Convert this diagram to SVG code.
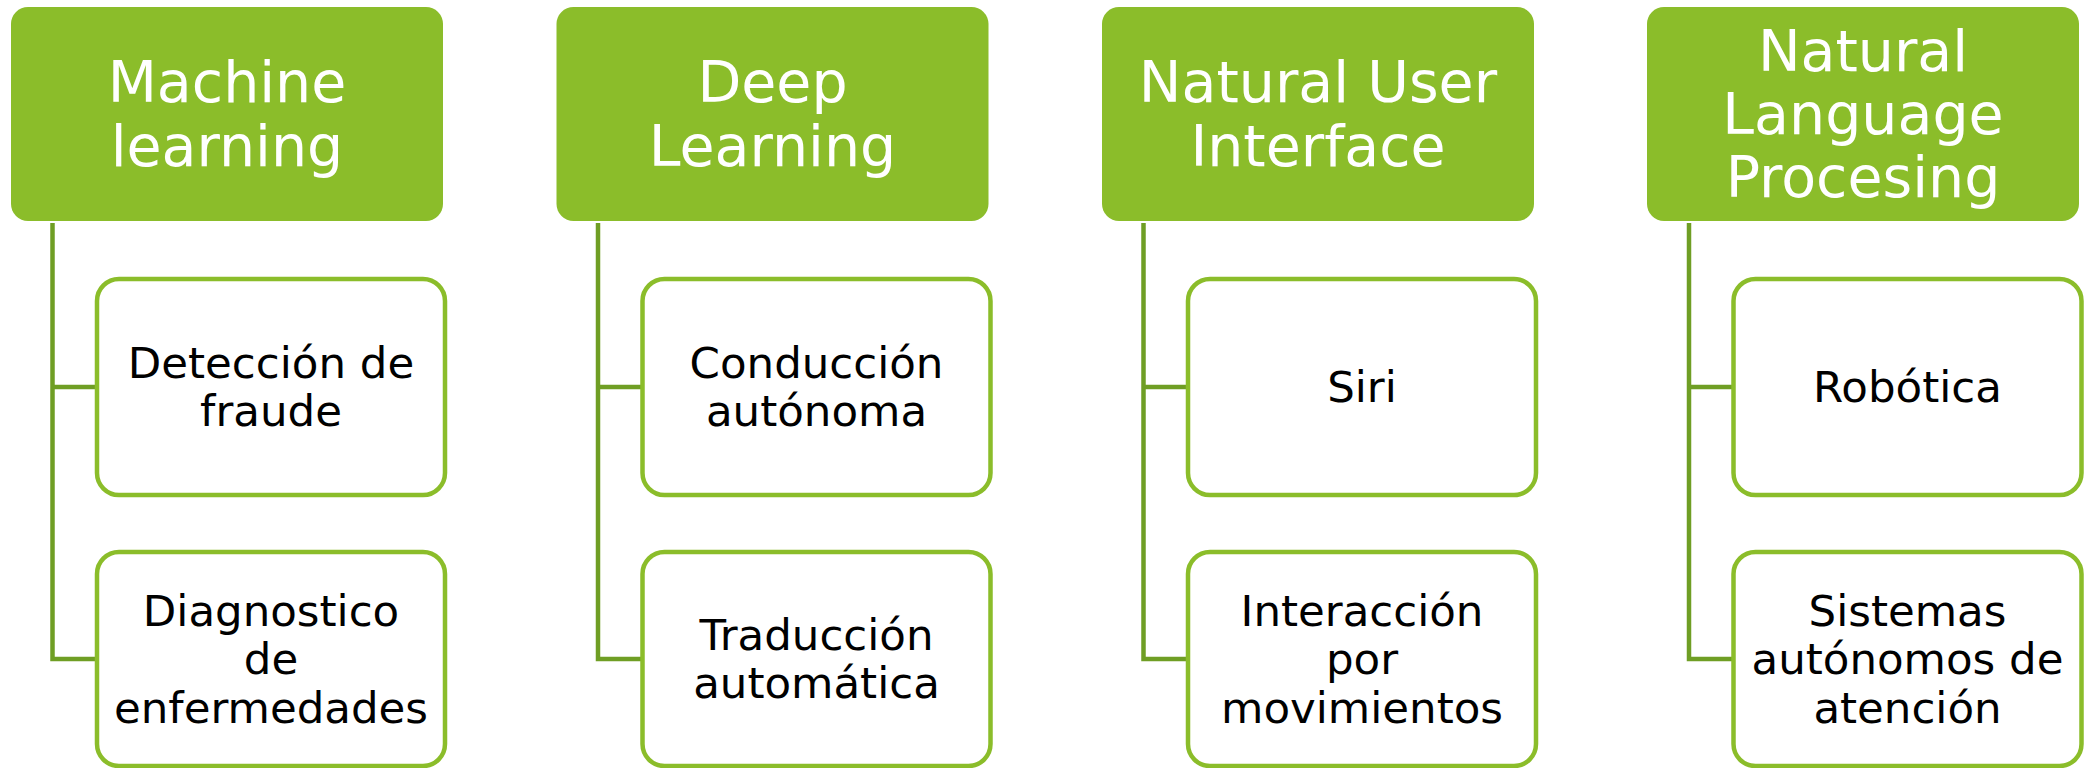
<svg xmlns="http://www.w3.org/2000/svg" width="2091" height="768" viewBox="0 0 2091 768">
<style>
.hdr{fill:#8BBD2A}
.hdr-t{font-family:"DejaVu Sans","Liberation Sans",sans-serif;font-size:57px;fill:#ffffff;text-anchor:middle}
.box{fill:#ffffff;stroke:#8BBD2A;stroke-width:4.5}
.box-t{font-family:"DejaVu Sans","Liberation Sans",sans-serif;font-size:43.5px;fill:#000000;text-anchor:middle}
.conn{fill:none;stroke:#6F9E24;stroke-width:4.5}
</style>
<rect width="2091" height="768" fill="#ffffff"/>
<g id="connectors">
<path class="conn" d="M52.5,223 V387 H97 M52.5,223 V659 H97"/>
<path class="conn" d="M598,223 V387 H642.5 M598,223 V659 H642.5"/>
<path class="conn" d="M1143.5,223 V387 H1188 M1143.5,223 V659 H1188"/>
<path class="conn" d="M1689,223 V387 H1733.5 M1689,223 V659 H1733.5"/>
</g>
<g id="h1"><rect class="hdr" x="11" y="7" width="432" height="214" rx="17"/>
<text class="hdr-t" x="227" y="102">Machine</text><text class="hdr-t" x="227" y="166">learning</text></g>
<g id="h2"><rect class="hdr" x="556.5" y="7" width="432" height="214" rx="17"/>
<text class="hdr-t" x="772.5" y="102">Deep</text><text class="hdr-t" x="772.5" y="166">Learning</text></g>
<g id="h3"><rect class="hdr" x="1102" y="7" width="432" height="214" rx="17"/>
<text class="hdr-t" x="1318" y="102">Natural User</text><text class="hdr-t" x="1318" y="166">Interface</text></g>
<g id="h4"><rect class="hdr" x="1647" y="7" width="432" height="214" rx="17"/>
<text class="hdr-t" x="1863" y="71">Natural</text><text class="hdr-t" x="1863" y="134">Language</text><text class="hdr-t" x="1863" y="197">Procesing</text></g>

<g id="c1a"><rect class="box" x="97" y="279" width="348" height="216" rx="22"/>
<text class="box-t" x="271" y="378">Detección de</text><text class="box-t" x="271" y="426">fraude</text></g>
<g id="c1b"><rect class="box" x="97" y="552" width="348" height="214" rx="22"/>
<text class="box-t" x="271" y="626">Diagnostico</text><text class="box-t" x="271" y="674">de</text><text class="box-t" x="271" y="723">enfermedades</text></g>

<g id="c2a"><rect class="box" x="642.5" y="279" width="348" height="216" rx="22"/>
<text class="box-t" x="816.5" y="378">Conducción</text><text class="box-t" x="816.5" y="426">autónoma</text></g>
<g id="c2b"><rect class="box" x="642.5" y="552" width="348" height="214" rx="22"/>
<text class="box-t" x="816.5" y="650">Traducción</text><text class="box-t" x="816.5" y="698">automática</text></g>

<g id="c3a"><rect class="box" x="1188" y="279" width="348" height="216" rx="22"/>
<text class="box-t" x="1362" y="402">Siri</text></g>
<g id="c3b"><rect class="box" x="1188" y="552" width="348" height="214" rx="22"/>
<text class="box-t" x="1362" y="626">Interacción</text><text class="box-t" x="1362" y="674">por</text><text class="box-t" x="1362" y="723">movimientos</text></g>

<g id="c4a"><rect class="box" x="1733.5" y="279" width="348" height="216" rx="22"/>
<text class="box-t" x="1907.5" y="402">Robótica</text></g>
<g id="c4b"><rect class="box" x="1733.5" y="552" width="348" height="214" rx="22"/>
<text class="box-t" x="1907.5" y="626">Sistemas</text><text class="box-t" x="1907.5" y="674">autónomos de</text><text class="box-t" x="1907.5" y="723">atención</text></g>
</svg>
